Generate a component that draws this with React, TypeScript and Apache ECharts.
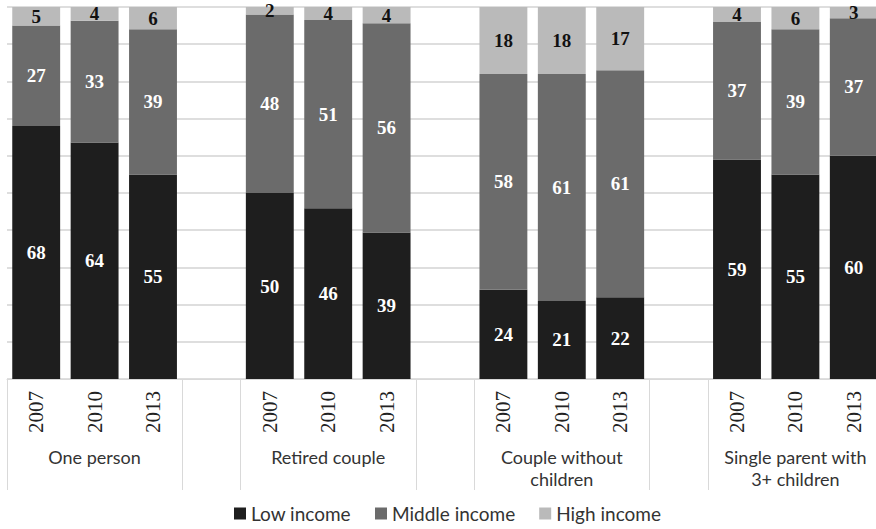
import React, { useEffect, useRef } from "react";
import * as echarts from "echarts";

const groups = ["One person", "Retired couple", "Couple without\nchildren", "Single parent with\n3+ children"];
const years = ["2007", "2010", "2013"];
// Values (labels show them rounded)
const lowIncome = [
  [68, 63.6, 55],
  [50, 45.9, 39.4],
  [24, 21, 22],
  [59, 55, 60],
];
const middleIncome = [
  [27, 32.7, 39],
  [48, 50.6, 56.2],
  [58, 61, 61],
  [37, 39, 37],
];
const highIncome = [
  [5, 3.7, 6],
  [2, 3.5, 4.4],
  [18, 18, 17],
  [4, 6, 3],
];
const seriesNames = ["Low income", "Middle income", "High income"];
const colors = ["#1e1e1e", "#6b6b6b", "#bababa"];

// Build category slots: 3 years per group, 1 empty slot between groups
const slots: { group: string; year: string; gi: number; yi: number }[] = [];
groups.forEach((g, gi) => {
  years.forEach((y, yi) => slots.push({ group: g, year: y, gi, yi }));
  if (gi < groups.length - 1) slots.push({ group: "", year: "", gi: -1, yi: -1 });
});
const categories = slots.map((s, i) => (s.gi >= 0 ? `${s.group}|${s.year}` : `gap${i}`));
const sepIdx = new Set<number>();
slots.forEach((s, i) => {
  if (s.gi >= 0 && s.yi === 0) sepIdx.add(i);
  if (s.gi < 0) sepIdx.add(i);
});

function slotData(src: number[][]) {
  return slots.map((s) => (s.gi >= 0 ? src[s.gi][s.yi] : "-"));
}

export default function App() {
  const ref = useRef<HTMLDivElement>(null);
  useEffect(() => {
    if (!ref.current) return;
    const chart = echarts.init(ref.current, undefined, { renderer: "svg" });
    const dataSets = [lowIncome, middleIncome, highIncome];
    chart.setOption({
      animation: false,
      grid: { left: 7, right: 0, top: 7, bottom: 150, containLabel: false },
      legend: {
        bottom: 1,
        left: 229,
        icon: "rect",
        itemWidth: 12,
        itemHeight: 12,
        itemGap: 24,
        textStyle: { fontFamily: "Lato", fontSize: 19, color: "#333" },
        data: seriesNames,
      },
      xAxis: [
        {
          type: "category",
          data: categories,
          position: "bottom",
          axisLine: { show: true, lineStyle: { color: "#d9d9d9", width: 1 } },
          axisTick: { show: false },
          axisLabel: {
            interval: 0,
            rotate: 90,
            margin: 12,
            fontFamily: "Liberation Serif",
            fontSize: 21,
            color: "#222",
            formatter: (v: string) => (v.startsWith("gap") ? "" : v.split("|")[1]),
          },
        },
        {
          type: "category",
          data: categories,
          position: "bottom",
          axisLine: { show: false },
          axisTick: {
            show: true,
            length: 111,
            interval: (i: number) => sepIdx.has(i),
            lineStyle: { color: "#d9d9d9", width: 1 },
          },
          axisLabel: {
            interval: (i: number) => slots[i].gi >= 0 && slots[i].yi === 1,
            margin: 67,
            fontFamily: "Lato",
            fontSize: 18,
            lineHeight: 22,
            color: "#333",
            formatter: (v: string) => (v.startsWith("gap") ? "" : v.split("|")[0]),
          },
        },
      ],
      yAxis: {
        type: "value",
        min: 0,
        max: 100,
        interval: 10,
        axisLabel: { show: false },
        axisLine: { show: false },
        axisTick: { show: false },
        splitLine: { lineStyle: { color: "#dedede", width: 2 } },
      },
      series: seriesNames.map((name, k) => ({
        name,
        type: "bar",
        stack: "total",
        xAxisIndex: 0,
        barCategoryGap: "18%",
        data: slotData(dataSets[k]),
        itemStyle: { color: colors[k] },
        label: {
          show: true,
          position: "inside",
          fontFamily: "Liberation Serif",
          fontWeight: "bold",
          fontSize: 19,
          color: k === 2 ? "#111" : "#fff",
          formatter: (p: any) => String(Math.round(p.value)),
        },
      })),
    });
    return () => chart.dispose();
  }, []);
  return (
    <div
      ref={ref}
      style={{ position: "fixed", left: 0, top: 0, width: 883, height: 529, background: "#fff" }}
    />
  );
}
